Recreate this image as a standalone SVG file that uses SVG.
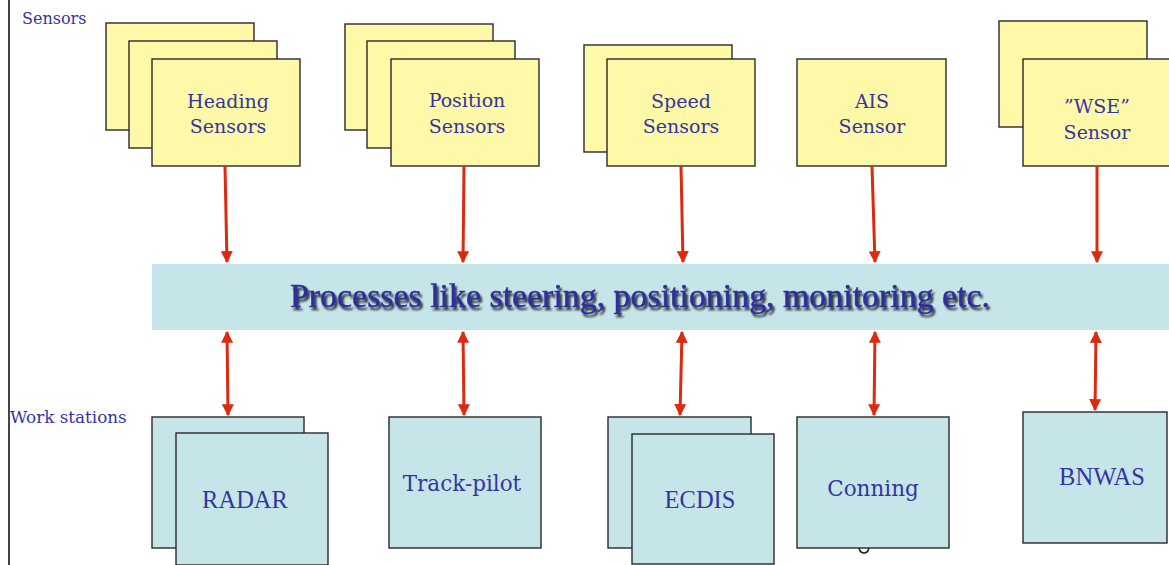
<svg xmlns="http://www.w3.org/2000/svg" width="1169" height="565" viewBox="0 0 1169 565">
<style>
.y{fill:#fdf9a9;stroke:#2a2a2a;stroke-width:1.4}
.c{fill:#c6e5e8;stroke:#2a2a2a;stroke-width:1.4}
.t{font-family:"DejaVu Serif","Liberation Serif",serif;font-size:19px;fill:#3535a0;text-anchor:middle}
.w{font-family:"DejaVu Serif","Liberation Serif",serif;font-size:21.5px;fill:#3535a0;text-anchor:middle}
.v{font-family:"Liberation Serif",serif;font-size:24.5px;fill:#3535a0;text-anchor:middle}
.l{font-family:"DejaVu Serif","Liberation Serif",serif;fill:#3535a0}
.a{stroke:#dc2a10;stroke-width:3;fill:none}
</style>
<defs>
<marker id="ah" viewBox="0 0 10 10" refX="9" refY="5" markerWidth="4" markerHeight="4" orient="auto-start-reverse" markerUnits="strokeWidth">
<path d="M0,0 L10,5 L0,10 z" fill="#dc2a10"/>
</marker>
<filter id="sh" x="-5%" y="-30%" width="110%" height="170%">
<feGaussianBlur in="SourceAlpha" stdDeviation="1.3" result="b"/>
<feOffset in="b" dx="2" dy="3" result="o"/>
<feComponentTransfer in="o" result="s"><feFuncA type="linear" slope="0.8"/></feComponentTransfer>
<feMerge><feMergeNode in="s"/><feMergeNode in="SourceGraphic"/></feMerge>
</filter>
</defs>
<rect width="1169" height="565" fill="#ffffff"/>
<line x1="9" y1="0" x2="9" y2="565" stroke="#444" stroke-width="2"/>
<text class="l" x="22" y="24" font-size="16">Sensors</text>
<text class="l" x="10" y="423" font-size="16.8">Work stations</text>

<g id="heading">
<rect class="y" x="106" y="23" width="148" height="107"/>
<rect class="y" x="129" y="41" width="148" height="107"/>
<rect class="y" x="152" y="59" width="148" height="107"/>
<text class="t" x="228" y="108">Heading</text>
<text class="t" x="228" y="133">Sensors</text>
</g>
<g id="position">
<rect class="y" x="345" y="24" width="148" height="106"/>
<rect class="y" x="367" y="41" width="148" height="107"/>
<rect class="y" x="391" y="59" width="148" height="107"/>
<text class="t" x="467" y="107">Position</text>
<text class="t" x="467" y="133">Sensors</text>
</g>
<g id="speed">
<rect class="y" x="584" y="45" width="148" height="107"/>
<rect class="y" x="607" y="59" width="148" height="107"/>
<text class="t" x="681" y="108">Speed</text>
<text class="t" x="681" y="133">Sensors</text>
</g>
<g id="ais">
<rect class="y" x="797" y="59" width="149" height="107"/>
<text class="t" x="872" y="108">AIS</text>
<text class="t" x="872" y="133">Sensor</text>
</g>
<g id="wse">
<rect class="y" x="999" y="21" width="148" height="106"/>
<rect class="y" x="1023" y="59" width="150" height="107"/>
<text class="t" x="1097" y="113">”WSE”</text>
<text class="t" x="1097" y="139">Sensor</text>
</g>

<g id="processes">
<rect x="152" y="264" width="1020" height="66" fill="#c6e5e8"/>
<text x="640" y="307" font-family="Liberation Serif,serif" font-size="34" fill="#2f2f9a" stroke="#2f2f9a" stroke-width="0.5" text-anchor="middle" textLength="700" lengthAdjust="spacingAndGlyphs" filter="url(#sh)">Processes like steering, positioning, monitoring etc.</text>
</g>

<g id="radar">
<rect class="c" x="152" y="417" width="152" height="131"/>
<rect class="c" x="176" y="433" width="152" height="132"/>
<text class="v" x="245" y="508">RADAR</text>
</g>
<g id="trackpilot">
<rect class="c" x="389" y="417" width="152" height="131"/>
<text class="w" x="462" y="491">Track-pilot</text>
</g>
<g id="ecdis">
<rect class="c" x="608" y="417" width="143" height="131"/>
<rect class="c" x="632" y="434" width="142" height="130"/>
<text class="v" x="700" y="508">ECDIS</text>
</g>
<g id="conning">
<rect class="c" x="797" y="417" width="152" height="131"/>
<text class="w" x="873" y="496">Conning</text>
</g>
<g id="bnwas">
<rect class="c" x="1023" y="412" width="144" height="131"/>
<text class="v" x="1102" y="485">BNWAS</text>
</g>
<path d="M859,548 Q860,553 864,553 Q868,553 869,548" fill="none" stroke="#222" stroke-width="1.5"/>

<g id="connectors">
<line class="a" x1="225" y1="166" x2="227" y2="262" marker-end="url(#ah)"/>
<line class="a" x1="464" y1="166" x2="463" y2="262" marker-end="url(#ah)"/>
<line class="a" x1="681" y1="166" x2="683" y2="262" marker-end="url(#ah)"/>
<line class="a" x1="872" y1="166" x2="875" y2="262" marker-end="url(#ah)"/>
<line class="a" x1="1097" y1="166" x2="1097" y2="262" marker-end="url(#ah)"/>
<line class="a" x1="227" y1="332" x2="228" y2="415" marker-start="url(#ah)" marker-end="url(#ah)"/>
<line class="a" x1="463" y1="332" x2="464" y2="415" marker-start="url(#ah)" marker-end="url(#ah)"/>
<line class="a" x1="682" y1="332" x2="680" y2="415" marker-start="url(#ah)" marker-end="url(#ah)"/>
<line class="a" x1="875" y1="332" x2="874" y2="415" marker-start="url(#ah)" marker-end="url(#ah)"/>
<line class="a" x1="1096" y1="332" x2="1095" y2="410" marker-start="url(#ah)" marker-end="url(#ah)"/>
</g>
</svg>
